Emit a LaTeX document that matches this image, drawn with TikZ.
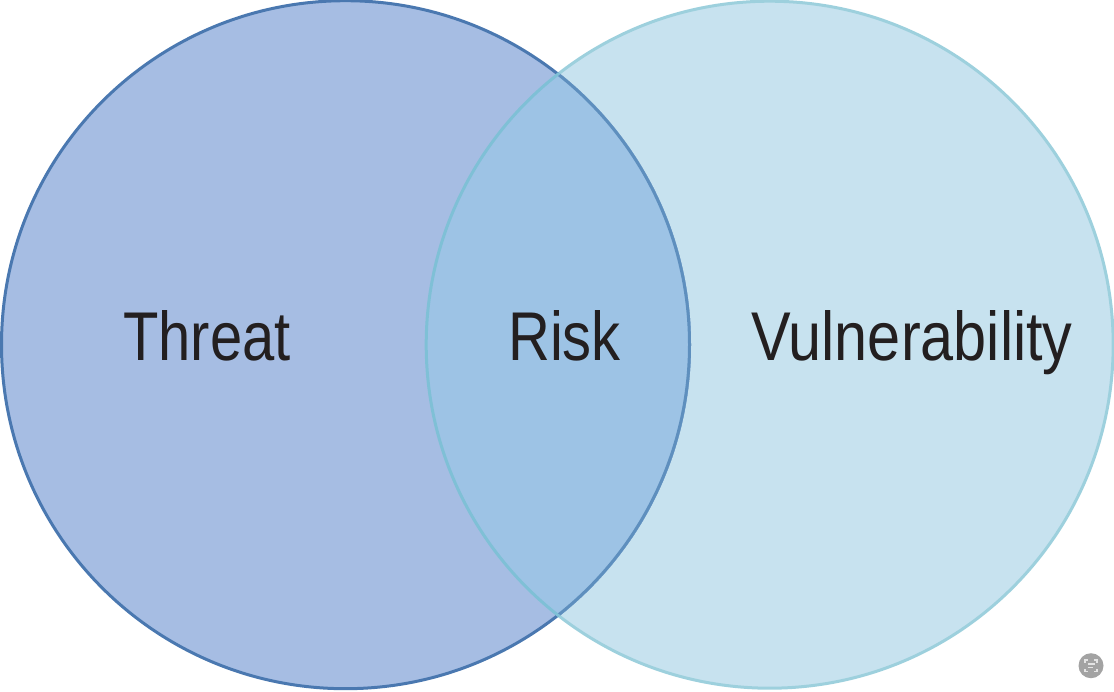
\documentclass[tikz,border=0pt]{standalone}
\usepackage{fontspec}
\setmainfont{Liberation Sans}
\definecolor{threatfill}{HTML}{A6BDE3}
\definecolor{threatline}{HTML}{4A78B0}
\definecolor{threatinner}{HTML}{5E8FBE}
\definecolor{vulnfill}{HTML}{C7E2EF}
\definecolor{vulnline}{HTML}{9DD0DD}
\definecolor{vulninner}{HTML}{7FC0D6}
\definecolor{riskfill}{HTML}{9DC3E5}
\definecolor{labelcol}{HTML}{231F20}
\definecolor{badge}{HTML}{A3A3A3}
\definecolor{badgemark}{HTML}{E4E4E4}
\tikzset{
 venn/.style={circle,minimum size=#1,inner sep=0pt,line width=3pt},
 lab/.style={text=labelcol,font=\fontsize{69pt}{69pt}\selectfont,inner sep=0pt,xscale=.84,anchor=base},
 badgeline/.style={draw=badgemark,line width=1.1pt}
}
\begin{document}
\begin{tikzpicture}[x=1pt,y=-1pt]
\useasboundingbox (0,0) rectangle (1114,691);
\fill[white] (0,0) rectangle (1114,691);
\node[venn=687pt,fill=vulnfill,draw=vulnline] (vuln) at (769.7,344.7) {};
\node[venn=688pt,fill=threatfill,draw=threatline] (threat) at (345.5,344.7) {};
\begin{scope}
\clip (345.5,344.7) circle (345.5pt);
\fill[riskfill] (769.7,344.7) circle (343.5pt);
\draw[vulninner,line width=3pt] (769.7,344.7) circle (343.5pt);
\end{scope}
\begin{scope}
\clip (769.7,344.7) circle (342pt);
\draw[threatinner,line width=3pt] (345.5,344.7) circle (344pt);
\end{scope}
\node[lab] (tlabel) at (207,360) {Threat};
\node[lab] (rlabel) at (564.5,360) {Risk};
\node[lab,xscale=1.025] (vlabel) at (912,360) {Vulnerability};
\fill[badge] (1091,665.7) circle (12.5pt);
\draw[badgeline] (1085,662.5) -- (1085,660) -- (1088,660);
\draw[badgeline] (1094,660) -- (1097,660) -- (1097,662.5);
\draw[badgeline] (1085,669) -- (1085,671.5) -- (1088,671.5);
\draw[badgeline] (1094,671.5) -- (1097,671.5) -- (1097,669);
\draw[badgeline] (1087.5,664) -- (1094.5,664);
\draw[badgeline] (1087.5,667.5) -- (1093,667.5);
\end{tikzpicture}
\end{document}
